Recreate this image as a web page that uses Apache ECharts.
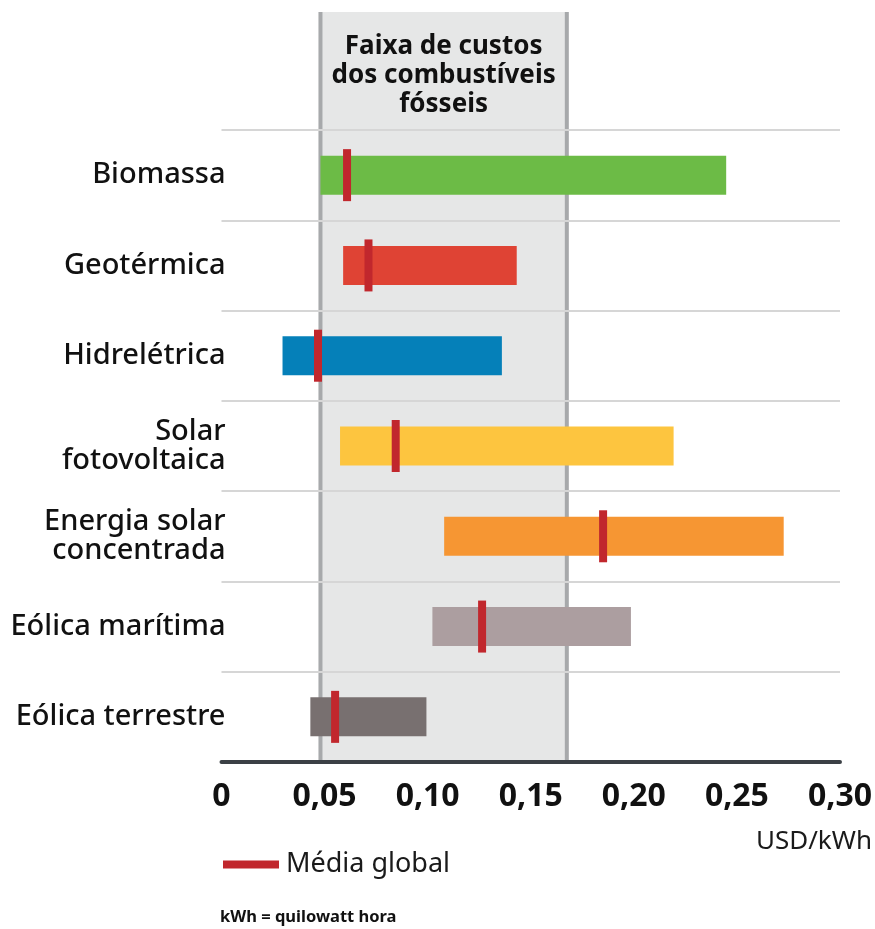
<!DOCTYPE html>
<html>
<head>
<meta charset="utf-8">
<script src="https://cdn.jsdelivr.net/npm/echarts@6/dist/echarts.min.js"></script>
<style>
html,body{margin:0;padding:0;background:#fff;}
#chart{width:875px;height:929px;}
</style>
</head>
<body>
<div id="chart"></div>
<script>
// ---- data ----
const categories = ['Biomassa','Geotérmica','Hidrelétrica','Solar\nfotovoltaica','Energia solar\nconcentrada','Eólica marítima','Eólica terrestre'];
const lowValues  = [0.048, 0.059, 0.0296, 0.0575, 0.108, 0.1023, 0.0431];
const highValues = [0.2448, 0.1432, 0.136, 0.2193, 0.2727, 0.1986, 0.0994];
const meanValues = [0.0609, 0.0713, 0.0468, 0.0845, 0.1851, 0.1264, 0.0551];
const barColors  = ['#6cbb46','#df4334','#0580b9','#fdc53f','#f69633','#ac9ea0','#787070'];
const fossilRange = [0.048, 0.1675];
const fossilCaption = 'Faixa de custos\ndos combustíveis\nfósseis';
const xTicks = [0, 0.05, 0.10, 0.15, 0.20, 0.25, 0.30];
const meanLabel = 'Média global';
const unitLabel = 'USD/kWh';
const footnote = 'kWh = quilowatt hora';

const FONT = '"Noto Sans", sans-serif';
const chart = echarts.init(document.getElementById('chart'));

const rangeData = highValues.map((h, i) => ({
  value: h - lowValues[i],
  itemStyle: { color: barColors[i] }
}));

chart.setOption({
  animation: false,
  backgroundColor: '#ffffff',
  grid: { left: 221.5, right: 30, top: 130, bottom: 167, containLabel: false },
  legend: {
    data: [meanLabel],
    left: 218, top: 846,
    icon: 'rect', itemWidth: 56, itemHeight: 8, itemGap: 10,
    textStyle: { fontFamily: FONT, fontSize: 27, color: '#1a1a1a', padding: [0,0,0,2] },
    selectedMode: false
  },
  xAxis: {
    type: 'value', min: 0, max: 0.3, interval: 0.05,
    z: 1,
    axisLine: { show: true, onZero: false, lineStyle: { color: '#3b4045', width: 4 } },
    axisTick: { show: false },
    splitLine: { show: false },
    axisLabel: {
      margin: 19,
      fontFamily: FONT, fontWeight: 'bold', fontSize: 32, color: '#111',
      formatter: v => v === 0 ? '0' : v.toFixed(2).replace('.', ',')
    }
  },
  yAxis: {
    type: 'category', data: categories, inverse: true,
    z: 1,
    axisLine: { show: false },
    axisTick: { show: false },
    splitLine: { show: true, lineStyle: { color: '#d6d6d6', width: 2 } },
    axisLabel: {
      margin: -4, align: 'right',
      fontFamily: FONT, fontWeight: 500, fontSize: 29, color: '#111', lineHeight: 29
    }
  },
  graphic: [
    { type: 'text', right: 3, top: 829,
      style: { text: unitLabel, font: '26px ' + FONT, fill: '#1a1a1a' } },
    { type: 'text', left: 220, top: 909,
      style: { text: footnote, font: 'bold 16.5px ' + FONT, fill: '#111' } }
  ],
  series: [
    {
      type: 'custom', name: 'fossil', z: 0, clip: false, silent: true,
      encode: { x: [0, 1], y: 2 },
      data: [[fossilRange[0], fossilRange[1], 0]],
      renderItem: (params, api) => {
        const cs = params.coordSys;
        const x1 = api.coord([api.value(0), 0])[0];
        const x2 = api.coord([api.value(1), 0])[0];
        const top = cs.y - 118;
        const bottom = cs.y + cs.height;
        return {
          type: 'group',
          children: [
            { type: 'rect', shape: { x: x1, y: top, width: x2 - x1, height: bottom - top }, style: { fill: '#e6e7e7' } },
            { type: 'line', shape: { x1: x1, y1: top, x2: x1, y2: bottom }, style: { stroke: '#a7a9ab', lineWidth: 4 } },
            { type: 'line', shape: { x1: x2, y1: top, x2: x2, y2: bottom }, style: { stroke: '#a7a9ab', lineWidth: 4 } },
            { type: 'text', x: (x1 + x2) / 2, y: top + 20,
              style: { text: fossilCaption, font: 'bold 26px ' + FONT, fill: '#111', align: 'center', verticalAlign: 'top', lineHeight: 29 } }
          ]
        };
      }
    },
    {
      type: 'bar', name: 'base', stack: 'r', silent: true, barWidth: 39,
      itemStyle: { color: 'transparent' },
      data: lowValues, z: 2
    },
    {
      type: 'bar', name: 'range', stack: 'r', silent: true, barWidth: 39,
      data: rangeData, z: 2
    },
    {
      type: 'scatter', name: meanLabel, z: 3, silent: true,
      symbol: 'rect', symbolSize: [8, 52],
      itemStyle: { color: '#c1272d', opacity: 1 },
      data: meanValues.map((v, i) => [v, i])
    }
  ]
});
</script>
</body>
</html>
